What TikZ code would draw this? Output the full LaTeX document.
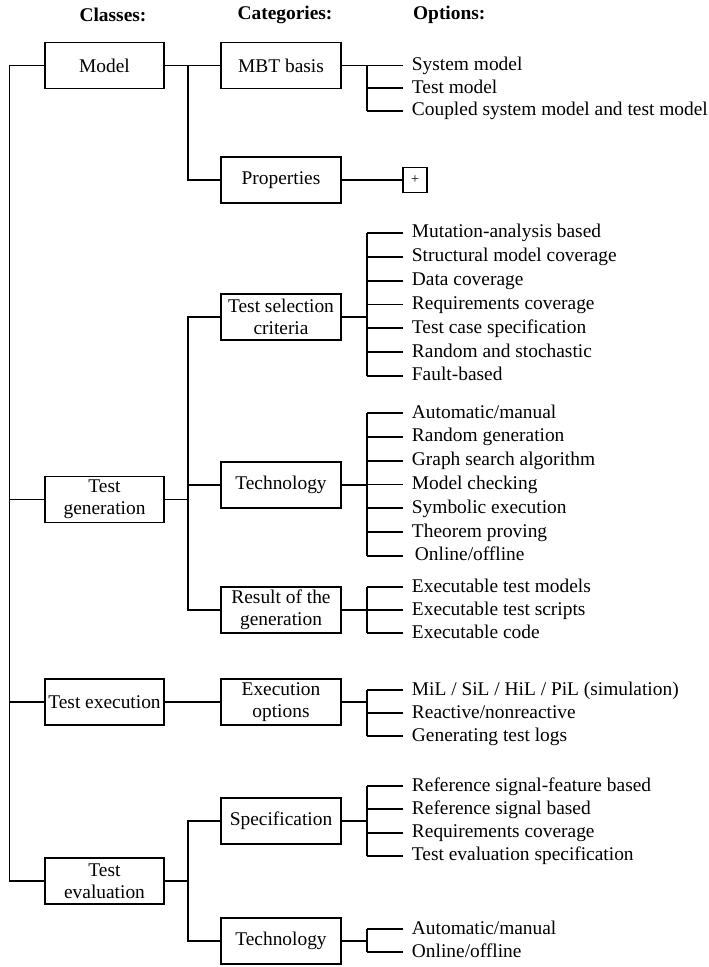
\documentclass[tikz,border=0pt]{standalone}
\usepackage{fontspec}
\setmainfont{Liberation Serif}
\usetikzlibrary{positioning}

\begin{document}
\begin{tikzpicture}[
  x=0.5pt,y=-0.5pt,
  font=\fontsize{9.7}{10.85}\selectfont,
  line width=0.95pt,
  cls/.style={draw,minimum width=59.5pt,minimum height=23pt,
              align=center,inner sep=1pt},
  cat/.style={draw,minimum width=60pt,minimum height=23pt,
              align=center,inner sep=1pt},
  opt/.style={anchor=west,inner xsep=4pt,inner ysep=0pt,
              text height=7pt,text depth=2pt},
  hdr/.style={font=\fontsize{9.7}{10.85}\selectfont\bfseries},
  plusbox/.style={draw,minimum width=12pt,minimum height=12.5pt,
                  inner sep=0pt,font=\fontsize{7}{8}\selectfont}
]
\useasboundingbox (0,0) rectangle (708,967);

% ---- columns ----
\def\xC{104.5}  % classes
\def\xK{281}    % categories
\def\xO{403}    % options
\coordinate (trunk) at (9.5,0);
\coordinate (cbus)  at (188,0);
\coordinate (obus)  at (367,0);

% ---- headers ----
\node[hdr] (hC) at (113,15) {Classes:};
\node[hdr] (hK) at (285,15) {Categories:};
\node[hdr,anchor=west] (hO) at (405.5,15) {Options:};

% ---- classes ----
\node[cls] (model) at (\xC,65.5)  {Model};
\node[cls] (tgen)  at (\xC,499.5) {Test\\generation};
\node[cls] (texec) at (\xC,702)   {Test execution};
\node[cls] (teval) at (\xC,881)   {Test\\evaluation};

\draw (model.west) -- (model.west -| trunk) -- (teval.west -| trunk) -- (teval.west);
\draw (tgen.west -| trunk) -- (tgen.west);
\draw (texec.west -| trunk) -- (texec.west);

% ---- categories ----
\node[cat] (mbt)   at (\xK,65.5) {MBT basis};
\node[cat] (prop)  at (\xK,180)  {Properties};
\node[cat] (tsc)   at (\xK,317)  {Test selection\\criteria};
\node[cat] (gtech) at (\xK,485)  {Technology};
\node[cat] (res)   at (\xK,610)  {Result of the\\generation};
\node[cat] (exo)   at (\xK,702)  {Execution\\options};
\node[cat] (spec)  at (\xK,821)  {Specification};
\node[cat] (etech) at (\xK,941)  {Technology};

\draw (model.east) -- (mbt.west);
\draw (mbt.west -| cbus) |- (prop.west);
\draw (tgen.east) -- (tgen.east -| cbus);
\draw (tsc.west) -| (res.west -| cbus) -- (res.west);
\draw (gtech.west -| cbus) -- (gtech.west);
\draw (texec.east) -- (exo.west);
\draw (teval.east) -- (teval.east -| cbus);
\draw (spec.west) -| (etech.west -| cbus) -- (etech.west);

% ---- options: MBT basis ----
\foreach \t [count=\i] in {System model,Test model,Coupled system model and test model}{
  \node[opt] (mbt\i) at (\xO,{65.5+(\i-1)*22.7}) {\t};
  \draw (mbt\i.west -| obus) -- (mbt\i.west);
}
\draw (mbt.east) -- (mbt.east -| obus);
\draw (mbt1.west -| obus) -- (mbt3.west -| obus);

% ---- options: properties ----
\node[plusbox] (plus) at (415,180) {+};
\draw (prop.east) -- (plus.west);

% ---- options: test selection criteria ----
\foreach \t [count=\i] in {Mutation-analysis based,Structural model coverage,Data coverage,
  Requirements coverage,Test case specification,Random and stochastic,Fault-based}{
  \node[opt] (tsc\i) at (\xO,{233+(\i-1)*23.83}) {\t};
  \draw (tsc\i.west -| obus) -- (tsc\i.west);
}
\draw (tsc.east) -- (tsc.east -| obus);
\draw (tsc1.west -| obus) -- (tsc7.west -| obus);

% ---- options: technology (generation) ----
\foreach \t [count=\i] in {Automatic/manual,Random generation,Graph search algorithm,
  Model checking,Symbolic execution,Theorem proving,\hspace{1.5pt}Online/offline}{
  \node[opt] (gtech\i) at (\xO,{413+(\i-1)*23.83}) {\t};
  \draw (gtech\i.west -| obus) -- (gtech\i.west);
}
\draw (gtech.east) -- (gtech.east -| obus);
\draw (gtech1.west -| obus) -- (gtech7.west -| obus);

% ---- options: result of the generation ----
\foreach \t [count=\i] in {Executable test models,Executable test scripts,Executable code}{
  \node[opt] (res\i) at (\xO,{587+(\i-1)*23}) {\t};
  \draw (res\i.west -| obus) -- (res\i.west);
}
\draw (res.east) -- (res.east -| obus);
\draw (res1.west -| obus) -- (res3.west -| obus);

% ---- options: execution options ----
\foreach \t [count=\i] in {MiL / SiL / HiL / PiL (simulation),Reactive/nonreactive,Generating test logs}{
  \node[opt] (exo\i) at (\xO,{690+(\i-1)*23}) {\t};
  \draw (exo\i.west -| obus) -- (exo\i.west);
}
\draw (exo.east) -- (exo.east -| obus);
\draw (exo1.west -| obus) -- (exo3.west -| obus);

% ---- options: specification ----
\foreach \t [count=\i] in {Reference signal-feature based,Reference signal based,
  Requirements coverage,Test evaluation specification}{
  \node[opt] (spec\i) at (\xO,{786+(\i-1)*23.33}) {\t};
  \draw (spec\i.west -| obus) -- (spec\i.west);
}
\draw (spec.east) -- (spec.east -| obus);
\draw (spec1.west -| obus) -- (spec4.west -| obus);

% ---- options: technology (evaluation) ----
\foreach \t [count=\i] in {Automatic/manual,Online/offline}{
  \node[opt] (etech\i) at (\xO,{929+(\i-1)*23}) {\t};
  \draw (etech\i.west -| obus) -- (etech\i.west);
}
\draw (etech.east) -- (etech.east -| obus);
\draw (etech1.west -| obus) -- (etech2.west -| obus);

\end{tikzpicture}
\end{document}
